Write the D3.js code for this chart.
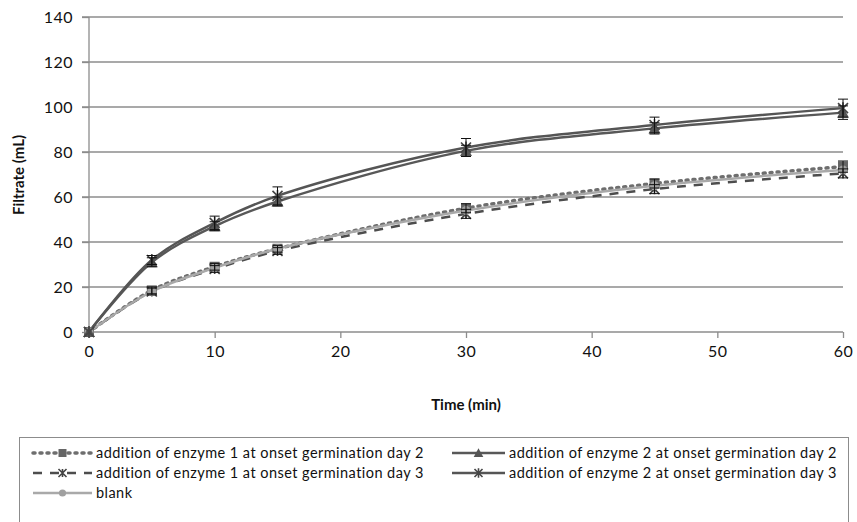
<!DOCTYPE html>
<html><head><meta charset="utf-8">
<script src="https://cdn.jsdelivr.net/npm/d3@7/dist/d3.min.js"></script>
<style>body{margin:0;background:#fff;} svg{display:block;font-family:Lato, "Liberation Sans", sans-serif;}</style>
</head><body>
<svg id="c" width="857" height="522"></svg>
<script>
const times = [0, 5, 10, 15, 30, 45, 60];
const yTicks = [0, 20, 40, 60, 80, 100, 120, 140];
const xTicks = [0, 10, 20, 30, 40, 50, 60];
const e1d2 = [0, 18.5, 29, 37, 55, 66, 73.5];
const e2d2 = [0, 31, 47, 58, 80.5, 90.5, 97.5];
const e1d3 = [0, 18, 28, 36, 52.5, 63.5, 70.5];
const e2d3 = [0, 32, 48.5, 60.5, 82, 92, 99.5];
const blank = [0, 18, 28.5, 37, 54, 65, 72];
const errE1d2 = [0, 1.5, 1.5, 1.5, 2, 2, 2.5];
const errE2d2 = [0, 2, 2, 2, 2.5, 2.5, 3];
const errE1d3 = [0, 1.5, 1.5, 1.5, 2, 2, 2];
const errE2d3 = [0, 2, 3, 4, 4, 3.5, 4];
const names = ["addition of enzyme 1 at onset germination day 2","addition of enzyme 1 at onset germination day 3","blank","addition of enzyme 2 at onset germination day 2","addition of enzyme 2 at onset germination day 3"];

const svg = d3.select("#c");
const x = d3.scaleLinear().domain([0, 60]).range([89, 843]);
const y = d3.scaleLinear().domain([0, 140]).range([332, 17]);

// grid
svg.append("g").selectAll("line").data(yTicks.filter(d=>d>0)).join("line")
  .attr("x1", 82).attr("x2", 843).attr("y1", d=>y(d)).attr("y2", d=>y(d))
  .attr("stroke", "#8c8c8c").attr("stroke-width", 1.3);

const ya = svg.append("g").attr("transform","translate(89,0)")
  .call(d3.axisLeft(y).tickValues(yTicks).tickSize(7).tickPadding(9));
ya.select(".domain").attr("stroke","#8c8c8c").attr("stroke-width",1.3).attr("d","M0,17V332");
ya.selectAll(".tick line").attr("stroke","#8c8c8c").attr("stroke-width",1.3);
ya.selectAll("text").attr("font-size",16).attr("fill","#111").attr("font-family","Lato, sans-serif").attr("letter-spacing",0.5);

const xa = svg.append("g").attr("transform","translate(0,332)")
  .call(d3.axisBottom(x).tickValues(xTicks).tickSize(6).tickPadding(8));
xa.select(".domain").attr("stroke","#8c8c8c").attr("stroke-width",1.3).attr("d","M89,0H843");
xa.selectAll(".tick line").attr("stroke","#8c8c8c").attr("stroke-width",1.3);
xa.selectAll("text").attr("font-size",16).attr("fill","#111").attr("font-family","Lato, sans-serif").attr("letter-spacing",0.5);

svg.append("text").attr("x",466).attr("y",410).attr("text-anchor","middle")
  .attr("font-size",15).attr("font-weight","bold").attr("fill","#111").text("Time (min)");
svg.append("text").attr("transform","translate(24,175) rotate(-90)").attr("text-anchor","middle")
  .attr("font-size",15).attr("font-weight","bold").attr("fill","#111").text("Filtrate (mL)");

const series = [
  {v:e1d2, e:errE1d2, color:"#6e6e6e", dash:"2,5", w:3.5, cap:"round", marker:"square", mcolor:"#666"},
  {v:e1d3, e:errE1d3, color:"#4d4d4d", dash:"9,8", w:2.5, cap:"butt", marker:"xstar", mcolor:"#444"},
  {v:blank, e:null, color:"#a9a9a9", dash:null, w:2.5, cap:"butt", marker:"circle", mcolor:"#a0a0a0"},
  {v:e2d2, e:errE2d2, color:"#585858", dash:null, w:2.5, cap:"butt", marker:"triangle", mcolor:"#555"},
  {v:e2d3, e:errE2d3, color:"#555555", dash:null, w:2.5, cap:"butt", marker:"asterisk", mcolor:"#444"}
];

const line = d3.line().x((d,i)=>x(times[i])).y(d=>y(d)).curve(d3.curveCatmullRom.alpha(0.5));

function drawMarker(g, type, cx, cy, col, s) {
  s = s || 1;
  if (type==="square") g.append("rect").attr("x",cx-5*s).attr("y",cy-5*s).attr("width",10*s).attr("height",10*s).attr("fill",col);
  else if (type==="circle") g.append("circle").attr("cx",cx).attr("cy",cy).attr("r",4.5*s).attr("fill",col);
  else if (type==="triangle") g.append("path").attr("d",`M${cx},${cy-6*s}L${cx+6*s},${cy+5*s}L${cx-6*s},${cy+5*s}Z`).attr("fill",col);
  else if (type==="xstar") {
    g.append("path").attr("d",`M${cx-5*s},${cy-5*s}L${cx+5*s},${cy+5*s}M${cx+5*s},${cy-5*s}L${cx-5*s},${cy+5*s}M${cx},${cy-5*s}V${cy+5*s}`).attr("stroke",col).attr("stroke-width",1.6);
  } else if (type==="asterisk") {
    g.append("path").attr("d",`M${cx-5*s},${cy-5*s}L${cx+5*s},${cy+5*s}M${cx+5*s},${cy-5*s}L${cx-5*s},${cy+5*s}M${cx},${cy-6*s}V${cy+6*s}`).attr("stroke",col).attr("stroke-width",1.6);
  }
}

const plot = svg.append("g");
series.forEach(s=>{
  plot.append("path").datum(s.v).attr("d",line).attr("fill","none")
    .attr("stroke",s.color).attr("stroke-width",s.w).attr("stroke-dasharray",s.dash).attr("stroke-linecap",s.cap);
});
series.forEach(s=>{
  s.v.forEach((v,i)=>drawMarker(plot, s.marker, x(times[i]), y(v), s.mcolor));
});
// error bars
series.forEach(s=>{
  if(!s.e) return;
  s.v.forEach((v,i)=>{
    const e = s.e[i]; if(!e) return;
    const cx = x(times[i]);
    plot.append("path").attr("d",`M${cx},${y(v-e)}V${y(v+e)}M${cx-5},${y(v+e)}H${cx+5}M${cx-5},${y(v-e)}H${cx+5}`)
      .attr("stroke","#111").attr("stroke-width",1).attr("fill","none");
  });
});

// legend
svg.append("rect").attr("x",19.5).attr("y",437.5).attr("width",829).attr("height",90)
  .attr("fill","#fff").attr("stroke","#8c8c8c").attr("stroke-width",1);
// order: series index, line-start x, row y, text x
const legendLayout = [[0,33,453,96],[3,452,453,509],[1,33,473,96],[4,452,473,509],[2,33,493,96]];
legendLayout.forEach(([si,lx,ly,tx])=>{
  const s = series[si];
  const g = svg.append("g");
  g.append("line").attr("x1",lx).attr("x2",tx-4).attr("y1",ly).attr("y2",ly)
    .attr("stroke",s.color).attr("stroke-width",s.w).attr("stroke-dasharray",s.dash).attr("stroke-linecap",s.cap);
  drawMarker(g, s.marker, (lx+tx-4)/2, ly, s.mcolor, 0.8);
  g.append("text").attr("x",tx).attr("y",ly+5).attr("font-size",14.5).attr("letter-spacing",0.45).attr("fill","#111").text(names[si]);
});
</script>
</body></html>
